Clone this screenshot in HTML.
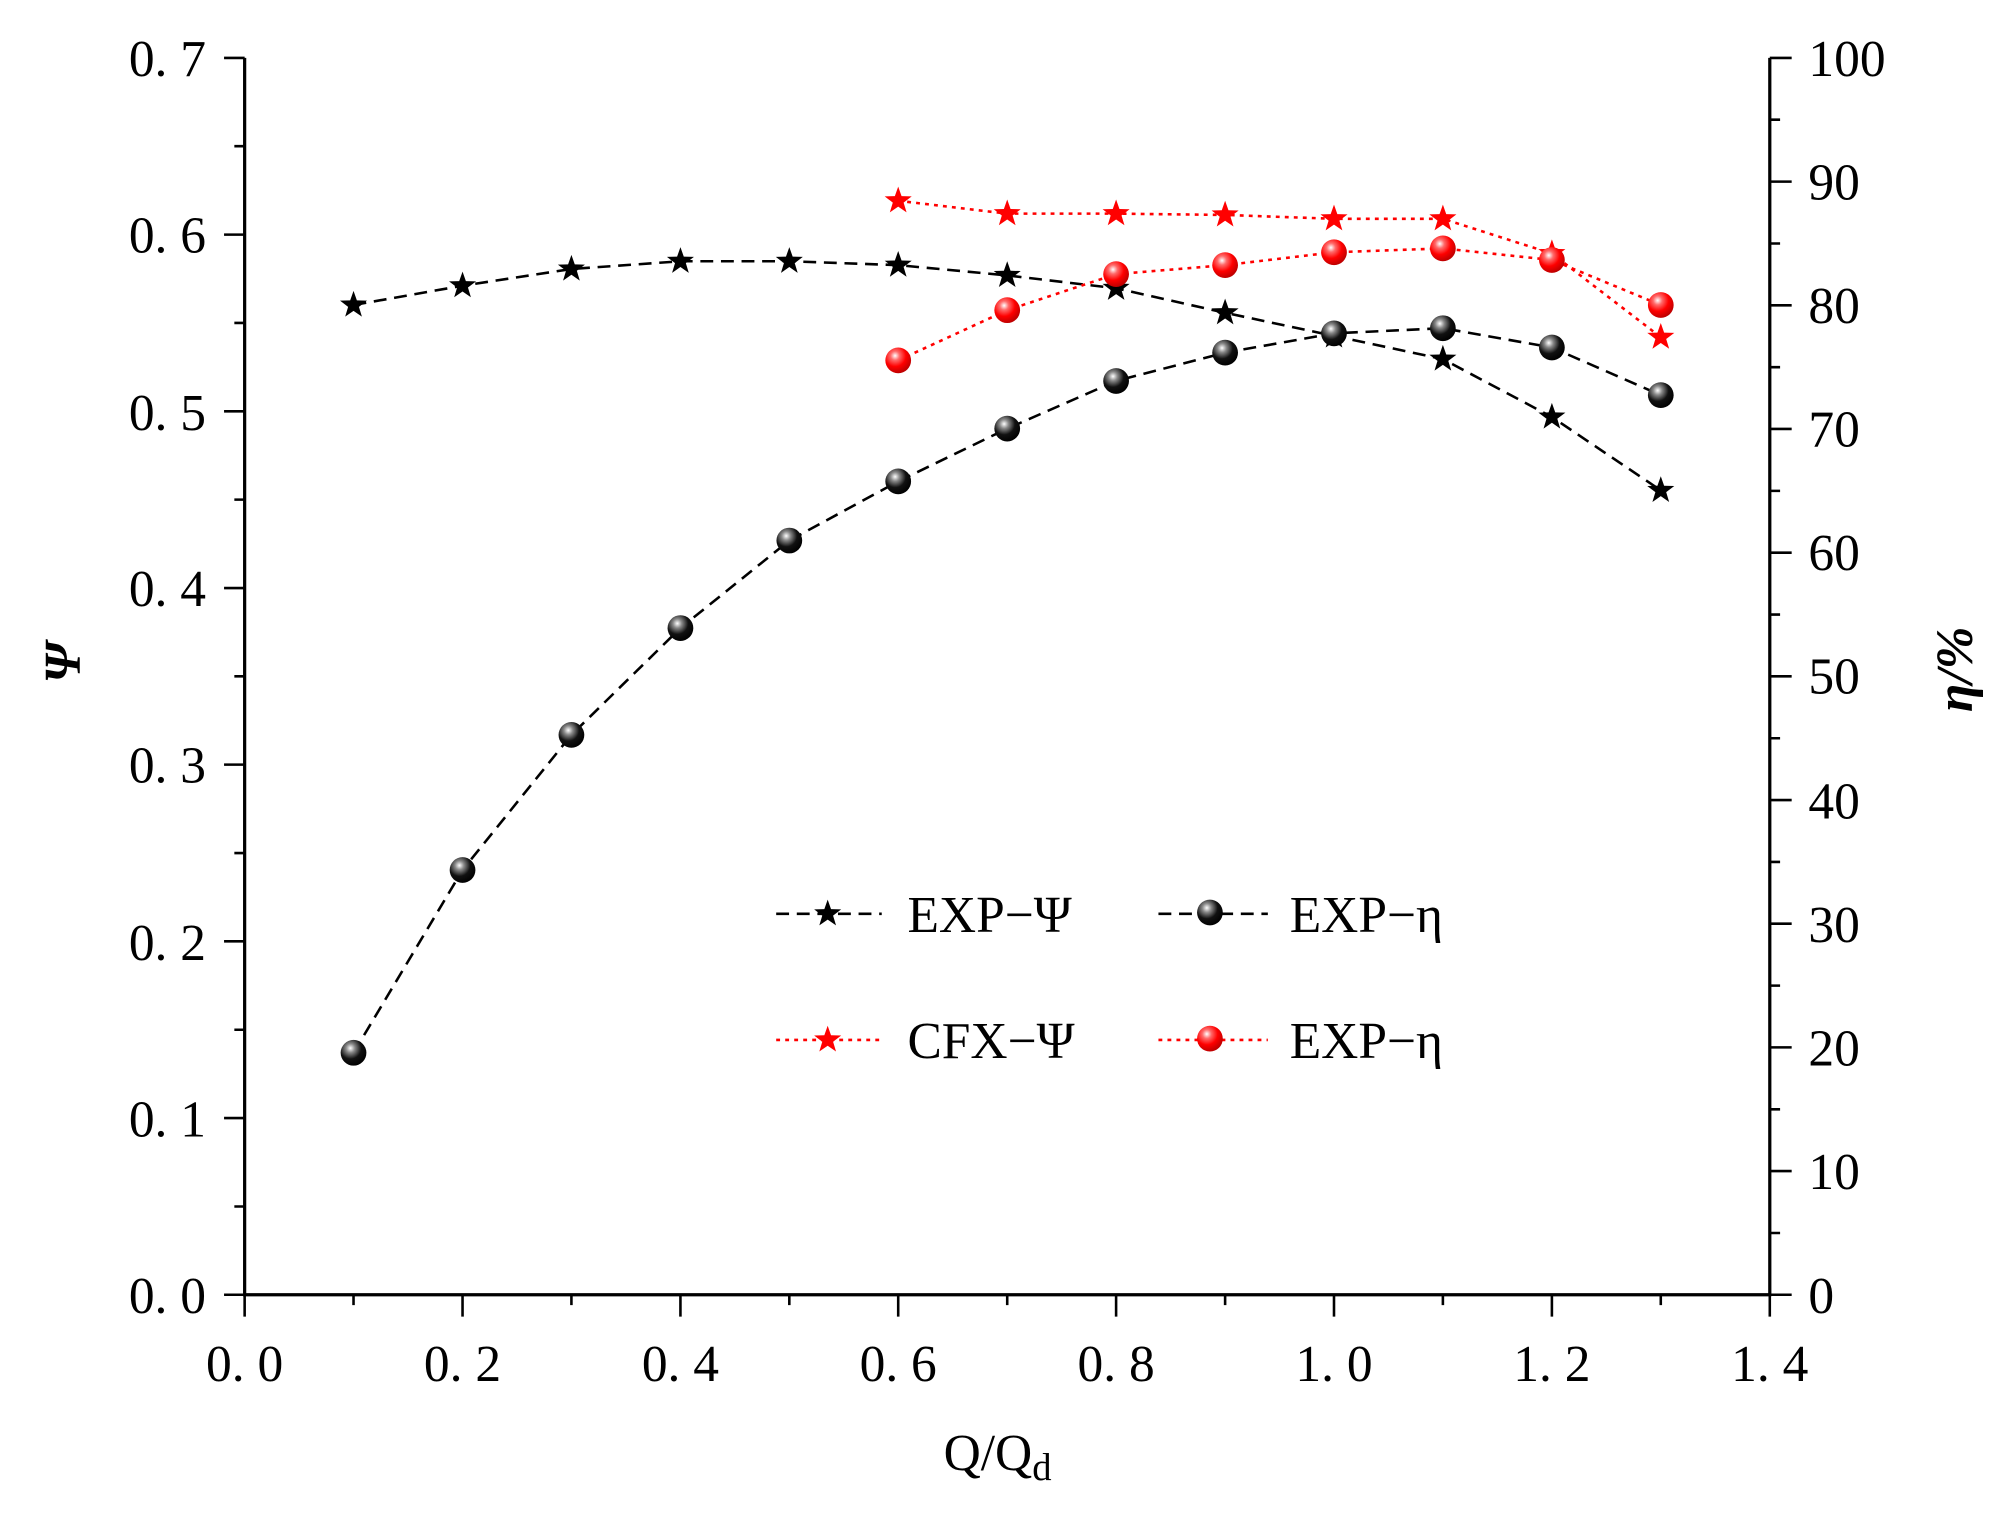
<!DOCTYPE html>
<html><head><meta charset="utf-8"><style>html,body{margin:0;padding:0;background:#fff}svg{display:block}</style></head>
<body>
<svg width="2008" height="1520" viewBox="0 0 1560 1181" xmlns="http://www.w3.org/2000/svg" font-family="'Liberation Serif','Noto Serif CJK SC',serif">
<defs>
<radialGradient id="gb" cx="0.38" cy="0.32" r="0.7"><stop offset="0" stop-color="#fff"/><stop offset="0.25" stop-color="#888"/><stop offset="0.6" stop-color="#111"/><stop offset="1" stop-color="#000"/></radialGradient>
<radialGradient id="gr" cx="0.38" cy="0.32" r="0.7"><stop offset="0" stop-color="#fff"/><stop offset="0.25" stop-color="#ff6a6a"/><stop offset="0.6" stop-color="#f00"/><stop offset="1" stop-color="#b00"/></radialGradient>
<path id="st" d="M0,-11 L2.6,-3.6 L10.5,-3.4 L4.2,1.4 L6.5,9 L0,4.5 L-6.5,9 L-4.2,1.4 L-10.5,-3.4 L-2.6,-3.6Z"/>
</defs>
<g stroke="#000" stroke-width="2.5" fill="none">
<path d="M190,45 V1006 H1375 V45"/>
</g>
<g stroke="#000" stroke-width="2">
<path d="M174,45H190M174,182.3H190M174,319.6H190M174,456.9H190M174,594.1H190M174,731.4H190M174,868.7H190M174,1006H190"/>
<path d="M182,113.6H190M182,250.9H190M182,388.2H190M182,525.5H190M182,662.8H190M182,800.1H190M182,937.4H190"/>
<path d="M1375,45H1392M1375,141.1H1392M1375,237.2H1392M1375,333.3H1392M1375,429.4H1392M1375,525.5H1392M1375,621.6H1392M1375,717.7H1392M1375,813.8H1392M1375,909.9H1392M1375,1006H1392"/>
<path d="M1375,93H1383M1375,189.2H1383M1375,285.3H1383M1375,381.4H1383M1375,477.5H1383M1375,573.6H1383M1375,669.7H1383M1375,765.8H1383M1375,861.9H1383M1375,958H1383"/>
<path d="M190,1006V1023M359.3,1006V1023M528.6,1006V1023M697.8,1006V1023M867.1,1006V1023M1036.4,1006V1023M1205.7,1006V1023M1375,1006V1023"/>
<path d="M274.6,1006V1014M443.9,1006V1014M613.2,1006V1014M782.5,1006V1014M951.8,1006V1014M1121,1006V1014M1290.3,1006V1014"/>
</g>
<g font-size="40" fill="#000" text-anchor="end">
<text x="160" y="59">0. 7</text><text x="160" y="196">0. 6</text><text x="160" y="334">0. 5</text><text x="160" y="471">0. 4</text><text x="160" y="608">0. 3</text><text x="160" y="746">0. 2</text><text x="160" y="883">0. 1</text><text x="160" y="1020">0. 0</text>
</g>
<g font-size="40" fill="#000" text-anchor="start">
<text x="1405" y="59">100</text><text x="1405" y="155">90</text><text x="1405" y="251">80</text><text x="1405" y="347">70</text><text x="1405" y="443">60</text><text x="1405" y="539">50</text><text x="1405" y="636">40</text><text x="1405" y="732">30</text><text x="1405" y="828">20</text><text x="1405" y="924">10</text><text x="1405" y="1020">0</text>
</g>
<g font-size="40" fill="#000" text-anchor="middle">
<text x="190" y="1073">0. 0</text><text x="359.3" y="1073">0. 2</text><text x="528.6" y="1073">0. 4</text><text x="697.8" y="1073">0. 6</text><text x="867.1" y="1073">0. 8</text><text x="1036.4" y="1073">1. 0</text><text x="1205.7" y="1073">1. 2</text><text x="1375" y="1073">1. 4</text>
<text x="775" y="1142">Q/Q<tspan font-size="30" dy="8">d</tspan></text>
</g>
<text transform="translate(62,515) rotate(-90)" font-size="40" font-style="italic" font-weight="bold" text-anchor="middle">Ψ</text>
<text transform="translate(1532,520) rotate(-90)" font-size="40" font-style="italic" font-weight="bold" text-anchor="middle">η/%</text>

<g fill="none" stroke-width="2">
<polyline stroke="#000" stroke-dasharray="10,6" points="274.6,237 359.3,222 443.9,209 528.6,203 613.2,203 697.8,206 782.5,214 867.1,224 951.8,243 1036.4,261 1121,279 1205.7,324 1290.3,381"/>
<polyline stroke="#000" stroke-dasharray="10,6" points="274.6,818 359.3,676 443.9,571 528.6,488 613.2,420 697.8,374 782.5,333 867.1,296 951.8,274 1036.4,259 1121,255 1205.7,270 1290.3,307"/>
<polyline stroke="#f00" stroke-dasharray="3,4" points="697.8,156 782.5,166 867.1,166 951.8,167 1036.4,170 1121,170 1205.7,197 1290.3,262"/>
<polyline stroke="#f00" stroke-dasharray="3,4" points="697.8,280 782.5,241 867.1,213 951.8,206 1036.4,196 1121,193 1205.7,202 1290.3,237"/>
</g>
<g fill="#000">
<use href="#st" x="274.6" y="237"/><use href="#st" x="359.3" y="222"/><use href="#st" x="443.9" y="209"/><use href="#st" x="528.6" y="203"/><use href="#st" x="613.2" y="203"/><use href="#st" x="697.8" y="206"/><use href="#st" x="782.5" y="214"/><use href="#st" x="867.1" y="224"/><use href="#st" x="951.8" y="243"/><use href="#st" x="1036.4" y="261"/><use href="#st" x="1121" y="279"/><use href="#st" x="1205.7" y="324"/><use href="#st" x="1290.3" y="381"/>
</g>
<g fill="url(#gb)">
<circle cx="274.6" cy="818" r="10"/><circle cx="359.3" cy="676" r="10"/><circle cx="443.9" cy="571" r="10"/><circle cx="528.6" cy="488" r="10"/><circle cx="613.2" cy="420" r="10"/><circle cx="697.8" cy="374" r="10"/><circle cx="782.5" cy="333" r="10"/><circle cx="867.1" cy="296" r="10"/><circle cx="951.8" cy="274" r="10"/><circle cx="1036.4" cy="259" r="10"/><circle cx="1121" cy="255" r="10"/><circle cx="1205.7" cy="270" r="10"/><circle cx="1290.3" cy="307" r="10"/>
</g>
<g fill="#f00">
<use href="#st" x="697.8" y="156"/><use href="#st" x="782.5" y="166"/><use href="#st" x="867.1" y="166"/><use href="#st" x="951.8" y="167"/><use href="#st" x="1036.4" y="170"/><use href="#st" x="1121" y="170"/><use href="#st" x="1205.7" y="197"/><use href="#st" x="1290.3" y="262"/>
</g>
<g fill="url(#gr)">
<circle cx="697.8" cy="280" r="10"/><circle cx="782.5" cy="241" r="10"/><circle cx="867.1" cy="213" r="10"/><circle cx="951.8" cy="206" r="10"/><circle cx="1036.4" cy="196" r="10"/><circle cx="1121" cy="193" r="10"/><circle cx="1205.7" cy="202" r="10"/><circle cx="1290.3" cy="237" r="10"/>
</g>

<g stroke-width="2" fill="none">
<path d="M603,710H685" stroke="#000" stroke-dasharray="10,6"/>
<path d="M900,710H985" stroke="#000" stroke-dasharray="10,6"/>
<path d="M603,808H685" stroke="#f00" stroke-dasharray="3,4"/>
<path d="M900,808H985" stroke="#f00" stroke-dasharray="3,4"/>
</g>
<use href="#st" x="643" y="710" fill="#000"/>
<circle cx="940" cy="709" r="10" fill="url(#gb)"/>
<use href="#st" x="643" y="808" fill="#f00"/>
<circle cx="940" cy="807" r="10" fill="url(#gr)"/>
<g font-size="40" fill="#000">
<text x="705" y="724">EXP−Ψ</text><text x="1002" y="724">EXP−η</text>
<text x="705" y="822">CFX−Ψ</text><text x="1002" y="822">EXP−η</text>
</g>
</svg>
</body></html>
